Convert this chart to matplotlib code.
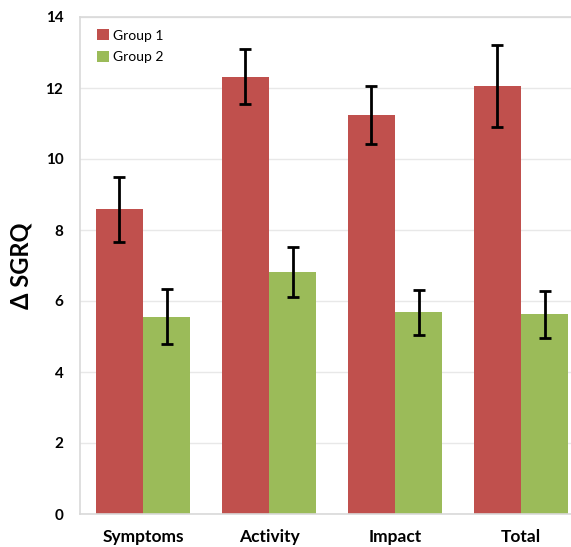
import numpy as np
import matplotlib as mpl
import matplotlib.pyplot as plt

mpl.rcParams['font.family'] = ['Lato', 'DejaVu Sans']

# Data
categories = ["Symptoms", "Activity", "Impact", "Total"]
group1 = [8.58, 12.32, 11.24, 12.06]
group1_err = [0.91, 0.78, 0.82, 1.15]
group2 = [5.56, 6.82, 5.68, 5.62]
group2_err = [0.78, 0.70, 0.64, 0.65]

red = "#C0504D"
green = "#9BBB59"

fig = plt.figure(figsize=(5.71, 5.47), dpi=100)
ax = fig.add_axes([80/571, 33/547, 491/571, 497/547])

x = np.arange(len(categories))
w = 0.375

ax.bar(x - w/2, group1, width=w, color=red, label="Group 1", zorder=2)
ax.bar(x + w/2, group2, width=w, color=green, label="Group 2", zorder=2)
ax.errorbar(x - w/2, group1, yerr=group1_err, fmt="none", ecolor="black",
            elinewidth=2, capsize=4, capthick=2, zorder=3)
ax.errorbar(x + w/2, group2, yerr=group2_err, fmt="none", ecolor="black",
            elinewidth=2, capsize=4, capthick=2, zorder=3)

ax.set_xlim(-0.5, 3.397)
ax.set_ylim(0, 14)
ax.set_yticks(np.arange(0, 15, 2))
ax.set_xticks(x)
ax.set_xticklabels(categories, fontsize=12.5, fontweight="bold")
for lab in ax.get_yticklabels():
    lab.set_fontweight("bold")
    lab.set_fontsize(11)
ax.tick_params(axis="both", length=0)
ax.tick_params(axis="y", pad=12)
ax.tick_params(axis="x", pad=11)

ax.yaxis.grid(True, color="#E8E8E8", lw=1, zorder=0)
ax.set_axisbelow(True)
for side in ["left", "top", "bottom"]:
    ax.spines[side].set_color("#D9D9D9")
    ax.spines[side].set_linewidth(1.2)
ax.spines["right"].set_visible(False)

ax.set_ylabel("\u0394 SGRQ", fontsize=17, fontweight="bold")
ax.yaxis.set_label_coords(-0.096, 0.5)

ax.legend(loc="upper left", frameon=False, fontsize=10, handlelength=0.8,
          handleheight=0.8, handletextpad=0.3, labelspacing=0.7,
          bbox_to_anchor=(0.01, 1.0))

fig.savefig("out.png", dpi=100)
